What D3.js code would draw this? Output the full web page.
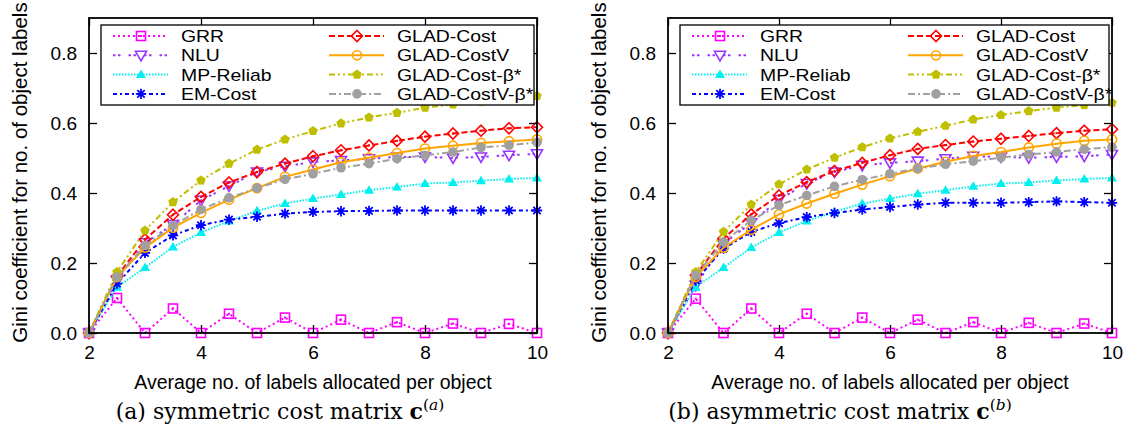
<!DOCTYPE html>
<html><head><meta charset="utf-8">
<script src="https://cdn.jsdelivr.net/npm/d3@7"></script>
<style>
body{margin:0;background:#fff;}
svg{display:block;}
</style></head>
<body>
<svg id="chart" width="1126" height="430"></svg>
<script>
// ---- data ----
const xs = [2,2.5,3,3.5,4,4.5,5,5.5,6,6.5,7,7.5,8,8.5,9,9.5,10];
const xTicks = [2,4,6,8,10];
const yTicks = [0,0.2,0.4,0.6,0.8];
const seriesNames = ["GRR","NLU","MP-Reliab","EM-Cost","GLAD-Cost","GLAD-CostV","GLAD-Cost-β*","GLAD-CostV-β*"];

// panel (a) symmetric cost matrix
const grrA   = [0,0.100,0,0.070,0,0.055,0,0.044,0,0.038,0,0.031,0,0.027,0,0.026,0];
const nluA   = [0,0.150,0.258,0.310,0.379,0.420,0.460,0.476,0.489,0.493,0.498,0.503,0.503,0.500,0.503,0.508,0.512];
const mpA    = [0,0.131,0.187,0.246,0.287,0.320,0.349,0.370,0.384,0.396,0.408,0.417,0.427,0.430,0.435,0.440,0.443];
const emA    = [0,0.141,0.229,0.279,0.308,0.324,0.332,0.341,0.346,0.348,0.349,0.350,0.350,0.350,0.350,0.350,0.350];
const costA  = [0,0.162,0.267,0.338,0.389,0.430,0.460,0.484,0.505,0.522,0.536,0.549,0.561,0.570,0.578,0.585,0.588];
const costVA = [0,0.160,0.244,0.301,0.343,0.381,0.414,0.446,0.467,0.488,0.501,0.514,0.527,0.535,0.543,0.548,0.553];
const betaA  = [0,0.174,0.293,0.374,0.436,0.484,0.524,0.553,0.577,0.599,0.616,0.629,0.644,0.653,0.661,0.670,0.677];
const betaVA = [0,0.160,0.250,0.307,0.353,0.386,0.414,0.439,0.455,0.472,0.484,0.498,0.508,0.517,0.530,0.536,0.545];

// panel (b) asymmetric cost matrix
const grrB   = [0,0.098,0,0.070,0,0.055,0,0.044,0,0.038,0,0.031,0,0.029,0,0.027,0];
const nluB   = [0,0.136,0.255,0.315,0.381,0.427,0.460,0.479,0.486,0.491,0.498,0.505,0.503,0.501,0.503,0.505,0.510];
const mpB    = [0,0.131,0.187,0.244,0.287,0.320,0.346,0.370,0.384,0.398,0.408,0.419,0.427,0.430,0.436,0.440,0.443];
const emB    = [0,0.150,0.241,0.289,0.314,0.331,0.343,0.353,0.360,0.367,0.372,0.372,0.372,0.374,0.376,0.374,0.372];
const costB  = [0,0.165,0.270,0.339,0.393,0.431,0.463,0.486,0.508,0.526,0.537,0.547,0.555,0.563,0.571,0.578,0.582];
const costVB = [0,0.160,0.244,0.295,0.339,0.370,0.398,0.424,0.448,0.470,0.489,0.506,0.517,0.530,0.541,0.549,0.553];
const betaB  = [0,0.174,0.289,0.367,0.425,0.467,0.501,0.531,0.556,0.575,0.592,0.610,0.623,0.634,0.644,0.651,0.658];
const betaVB = [0,0.165,0.260,0.322,0.365,0.393,0.419,0.438,0.455,0.470,0.482,0.491,0.501,0.510,0.517,0.525,0.531];

// ---- styles ----
const styles = [
  {color:"#ff00ff", dash:"2,3",          marker:"squareDot"},
  {color:"#9933ff", dash:"2.5,2.5,2.5,8", marker:"triDownOpen"},
  {color:"#00f0f0", dash:"1.5,1.5",      marker:"triUp"},
  {color:"#0000ff", dash:"4,3,2,3",      marker:"star"},
  {color:"#ff0000", dash:"6,3",          marker:"diamondDot"},
  {color:"#ffa500", dash:null,           marker:"circleOpen"},
  {color:"#bfbf00", dash:"6,3,2,3,2,3",  marker:"pentagon"},
  {color:"#a0a0a0", dash:"7,3,2,3",      marker:"circle"}
];

const svg = d3.select("#chart");
const FONT = "'Liberation Sans', Arial, Helvetica, sans-serif";

function drawMarker(g, type, x, y, color) {
  const sw = 1.6;
  if (type === "squareDot") {
    g.append("rect").attr("x", x-4.5).attr("y", y-4.5).attr("width", 9).attr("height", 9)
      .attr("fill","none").attr("stroke",color).attr("stroke-width",sw);
    g.append("rect").attr("x", x-1).attr("y", y-1).attr("width", 2).attr("height", 2).attr("fill", color);
  } else if (type === "triDownOpen") {
    g.append("path").attr("d", `M${x-5.5},${y-4}L${x+5.5},${y-4}L${x},${y+5.5}Z`)
      .attr("fill","none").attr("stroke",color).attr("stroke-width",sw);
  } else if (type === "triUp") {
    g.append("path").attr("d", `M${x-5},${y+3.5}L${x+5},${y+3.5}L${x},${y-5}Z`).attr("fill",color);
  } else if (type === "star") {
    const r = 5.2;
    let d = "";
    for (let i = 0; i < 4; i++) {
      const a = i*Math.PI/4;
      d += `M${x - r*Math.cos(a)},${y - r*Math.sin(a)}L${x + r*Math.cos(a)},${y + r*Math.sin(a)}`;
    }
    g.append("path").attr("d", d).attr("stroke", color).attr("stroke-width", 1.8).attr("fill","none");
  } else if (type === "diamondDot") {
    g.append("path").attr("d", `M${x},${y-5.5}L${x+5.5},${y}L${x},${y+5.5}L${x-5.5},${y}Z`)
      .attr("fill","none").attr("stroke",color).attr("stroke-width",sw);
    g.append("rect").attr("x", x-1).attr("y", y-1).attr("width", 2).attr("height", 2).attr("fill", color);
  } else if (type === "circleOpen") {
    g.append("circle").attr("cx", x).attr("cy", y).attr("r", 4.6)
      .attr("fill","none").attr("stroke",color).attr("stroke-width",sw);
  } else if (type === "pentagon") {
    const r = 5;
    const pts = d3.range(5).map(i => {
      const a = -Math.PI/2 + i*2*Math.PI/5;
      return [x + r*Math.cos(a), y + r*Math.sin(a)];
    });
    g.append("path").attr("d", "M" + pts.map(p => p.join(",")).join("L") + "Z").attr("fill", color);
  } else if (type === "circle") {
    g.append("circle").attr("cx", x).attr("cy", y).attr("r", 4.8).attr("fill", color);
  }
}

function drawPanel(cfg) {
  const {left, right, top, bottom, data, yTitleX, caption, capLetter, capX} = cfg;
  const x = d3.scaleLinear().domain([2,10]).range([left, right]);
  const y = d3.scaleLinear().domain([0,0.9]).range([bottom, top]);
  const g = svg.append("g");

  // series
  const line = d3.line().x(d => x(d[0])).y(d => y(d[1]));
  data.forEach((vals, si) => {
    const st = styles[si];
    const pts = xs.map((xv, i) => [xv, vals[i]]);
    g.append("path").datum(pts).attr("d", line)
      .attr("fill","none").attr("stroke", st.color).attr("stroke-width", 2)
      .attr("stroke-dasharray", st.dash);
    const mg = g.append("g");
    pts.forEach(p => drawMarker(mg, st.marker, x(p[0]), y(p[1]), st.color));
  });

  // axes (ticks inward, mirrored)
  const tl = 8;
  const axB = d3.axisBottom(x).tickValues(xTicks).tickSize(-tl).tickPadding(12.5).tickFormat(d3.format("d"));
  const axT = d3.axisTop(x).tickValues(xTicks).tickSize(-tl);
  const axL = d3.axisLeft(y).tickValues(yTicks).tickSize(-tl).tickPadding(12).tickFormat(d3.format(".1f"));
  const axR = d3.axisRight(y).tickValues(yTicks).tickSize(-tl);
  [[axB, `translate(0,${bottom})`, true], [axT, `translate(0,${top})`, false],
   [axL, `translate(${left},0)`, true], [axR, `translate(${right},0)`, false]]
    .forEach(([ax, tr, labels]) => {
      const a = g.append("g").attr("transform", tr).call(ax);
      a.select(".domain").remove();
      a.selectAll(".tick line").attr("stroke","#000").attr("stroke-width",1.3);
      if (labels) {
        a.selectAll(".tick text").attr("font-family", FONT).attr("font-size", 19).attr("fill","#000");
      } else {
        a.selectAll(".tick text").remove();
      }
    });
  g.append("rect").attr("x", left).attr("y", top).attr("width", right-left).attr("height", bottom-top)
    .attr("fill","none").attr("stroke","#000").attr("stroke-width",1.8);

  // legend
  const lx = left + 12, ly = top + 7, lw = right - left - 15, lh = 80;
  g.append("rect").attr("x", lx).attr("y", ly).attr("width", lw).attr("height", lh)
    .attr("fill","#fff").attr("stroke","#000").attr("stroke-width",1.3);
  const legFS = 17, legWidthScale = 19.4 / 17;
  seriesNames.forEach((name, i) => {
    const col = Math.floor(i/4), row = i % 4;
    const ox = lx + (col === 0 ? 0 : 216);
    const cy = ly + 11 + row*19.3;
    const st = styles[i];
    g.append("line").attr("x1", ox+12).attr("x2", ox+67).attr("y1", cy).attr("y2", cy)
      .attr("stroke", st.color).attr("stroke-width", 2).attr("stroke-dasharray", st.dash);
    drawMarker(g, st.marker, ox+40, cy, st.color);
    const txt = g.append("text").attr("x", ox + 80).attr("y", cy).attr("dy","0.36em")
      .attr("font-family", FONT).attr("font-size", legFS).text(name);
    const w = txt.node().getComputedTextLength();
    txt.attr("textLength", w * legWidthScale).attr("lengthAdjust", "spacingAndGlyphs");
  });

  // axis titles
  g.append("text").attr("x", (left+right)/2).attr("y", 389).attr("text-anchor","middle")
    .attr("font-family", FONT).attr("font-size", 19.5).text("Average no. of labels allocated per object");
  g.append("text").attr("transform", `translate(${yTitleX},${(top+bottom)/2 - 3}) rotate(-90)`)
    .attr("text-anchor","middle").attr("font-family", FONT).attr("font-size", 20.5)
    .text("Gini coefficient for no. of object labels");

  // caption
  const t = g.append("text").attr("x", capX).attr("y", 419).attr("text-anchor","middle")
    .attr("font-family","'DejaVu Serif', 'Liberation Serif', serif").attr("font-size", 22);
  t.append("tspan").text(caption + " ");
  t.append("tspan").attr("font-weight","bold").text("c");
  const sup = t.append("tspan").attr("dy", -9).attr("font-size", 15.5);
  sup.append("tspan").text("(");
  sup.append("tspan").attr("font-style","italic").text(capLetter);
  sup.append("tspan").text(")");
}

drawPanel({left:89, right:537, top:18, bottom:333, data:[grrA,nluA,mpA,emA,costA,costVA,betaA,betaVA],
  yTitleX:27, caption:"(a) symmetric cost matrix", capLetter:"a", capX:280});
drawPanel({left:668, right:1112, top:18, bottom:333, data:[grrB,nluB,mpB,emB,costB,costVB,betaB,betaVB],
  yTitleX:606, caption:"(b) asymmetric cost matrix", capLetter:"b", capX:840});
</script>
</body></html>
